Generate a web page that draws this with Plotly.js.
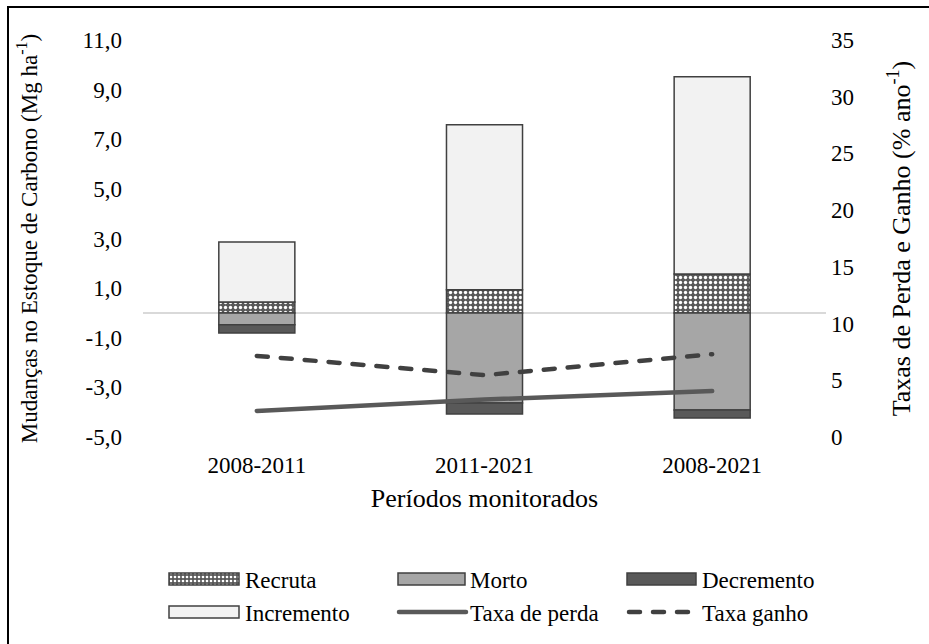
<!DOCTYPE html>
<html>
<head>
<meta charset="utf-8">
<script src="https://cdn.plot.ly/plotly-3.0.1.min.js"></script>
<style>
  html, body { margin: 0; padding: 0; background: #fff; overflow: hidden; }
  #wrap { position: relative; width: 929px; height: 644px; }
  #chart { width: 929px; height: 644px; }
  #frame { position: absolute; left: 7px; top: 6px; width: 1000px; height: 1000px;
           border: 2px solid #000; pointer-events: none; box-sizing: border-box; }
  .js-line { stroke-linecap: round; }
</style>
</head>
<body>
<div id="wrap">
  <div id="chart"></div>
  <div id="frame"></div>
</div>
<script>
// ---- data ----
const periods = ["2008-2011", "2011-2021", "2008-2021"];
const recruta = [0.44, 0.93, 1.57];
const incremento = [2.42, 6.65, 7.95];
const morto = [-0.48, -3.63, -3.91];
const decremento = [-0.33, -0.44, -0.32];
const taxaPerda = [2.3, 3.3, 4.05];
const taxaGanho = [7.15, 5.45, 7.3];
const leftTickVals = [-5, -3, -1, 1, 3, 5, 7, 9, 11];
const leftTickText = ["-5,0", "-3,0", "-1,0", "1,0", "3,0", "5,0", "7,0", "9,0", "11,0"];
const rightTickVals = [0, 5, 10, 15, 20, 25, 30, 35];

const FONT = "Liberation Serif, Times New Roman, serif";
const FS = 23;
const barLine = { color: "#404040", width: 1.5 };

const traces = [
  { type: "bar", name: "Recruta", x: periods, y: recruta,
    marker: { color: "#595959", line: barLine,
      pattern: { shape: ".", fgcolor: "#ffffff", bgcolor: "#595959", size: 5, solidity: 0.35 } } },
  { type: "bar", name: "Morto", x: periods, y: morto,
    marker: { color: "#a6a6a6", line: barLine } },
  { type: "bar", name: "Decremento", x: periods, y: decremento,
    marker: { color: "#595959", line: barLine } },
  { type: "bar", name: "Incremento", x: periods, y: incremento,
    marker: { color: "#f2f2f2", line: barLine } },
  { type: "scatter", mode: "lines", name: "Taxa de perda", x: periods, y: taxaPerda, yaxis: "y2",
    line: { color: "#595959", width: 4.5 } },
  { type: "scatter", mode: "lines", name: "Taxa ganho", x: periods, y: taxaGanho, yaxis: "y2",
    line: { color: "#404040", width: 4.5, dash: "11px,13px" } }
];

const layout = {
  width: 929, height: 644,
  paper_bgcolor: "#fff", plot_bgcolor: "#fff",
  font: { family: FONT, size: FS, color: "#000" },
  margin: { l: 143, r: 103, t: 40, b: 207, autoexpand: false },
  barmode: "relative",
  bargap: 0.666,
  showlegend: true,
  legend: {
    orientation: "h", x: 0.07, xanchor: "left", y: -0.33, yanchor: "top",
    bgcolor: "rgba(0,0,0,0)",
    traceorder: "normal", entrywidth: 130, font: { family: FONT, size: FS, color: "#000" }
  },
  xaxis: {
    type: "category", showline: false, showgrid: false, ticks: "",
    tickfont: { family: FONT, size: FS }, ticklabelstandoff: 12,
    title: { text: "Períodos monitorados", font: { family: FONT, size: 26 }, standoff: 11 }
  },
  yaxis: {
    range: [-5, 11], tickvals: leftTickVals, ticktext: leftTickText,
    showgrid: false, showline: false, ticks: "",
    zeroline: true, zerolinecolor: "#d9d9d9", zerolinewidth: 2,
    tickfont: { family: FONT, size: FS }, ticklabelstandoff: 20,
    title: { text: "Mudanças no Estoque de Carbono (Mg ha<sup>-1</sup>)", font: { family: FONT, size: FS }, standoff: 38 }
  },
  yaxis2: {
    overlaying: "y", side: "right", range: [0, 35], tickvals: rightTickVals,
    showgrid: false, showline: false, zeroline: false, ticks: "",
    tickfont: { family: FONT, size: FS }, ticklabelstandoff: 4,
    title: { text: "Taxas de Perda e Ganho (% ano<sup>-1</sup>)", font: { family: FONT, size: 26 }, standoff: 38 }
  }
};

// legend placement (styling): text left x, row center y, swatch span in page px
const legendTextX = [245, 470, 702, 245, 470, 702];
const legendRowY = [579, 579, 579, 612, 612, 612];
const legendSwatch = [[169, 239], [398, 465], [627, 696], [169, 239], [397, 468], [627, 690]];

Plotly.newPlot("chart", traces, layout, { displayModeBar: false, staticPlot: true }).then(function (gd) {
  const leg = gd.querySelector("g.legend");
  if (!leg) return;
  leg.querySelectorAll("[clip-path]").forEach(function (el) { el.removeAttribute("clip-path"); });
  const m = /translate\(([-\d.]+)[ ,]+([-\d.]+)\)/.exec(leg.getAttribute("transform") || "");
  const lx = m ? parseFloat(m[1]) : 0, ly = m ? parseFloat(m[2]) : 0;
  const items = leg.querySelectorAll("g.traces");
  items.forEach(function (g, i) {
    if (i >= legendTextX.length) return;
    const T = legendTextX[i];
    g.setAttribute("transform", "translate(" + (T - 40 - lx) + "," + (legendRowY[i] - ly) + ")");
    const a = legendSwatch[i][0] - T + 40, b = legendSwatch[i][1] - T + 40;
    g.querySelectorAll("g.legendpoints path").forEach(function (p) {
      const d = (p.getAttribute("d") || "").replace(/\s/g, "");
      if (d === "M6,6H-6V-6H6Z") {
        p.setAttribute("d", "M" + b + ",6H" + a + "V-6H" + b + "Z");
        p.setAttribute("transform", "translate(0,0)");
      }
    });
    g.querySelectorAll("path.js-line").forEach(function (p) {
      p.setAttribute("d", "M" + (a + 2) + ",0H" + (b - 2));
    });
  });
});
</script>
</body>
</html>
